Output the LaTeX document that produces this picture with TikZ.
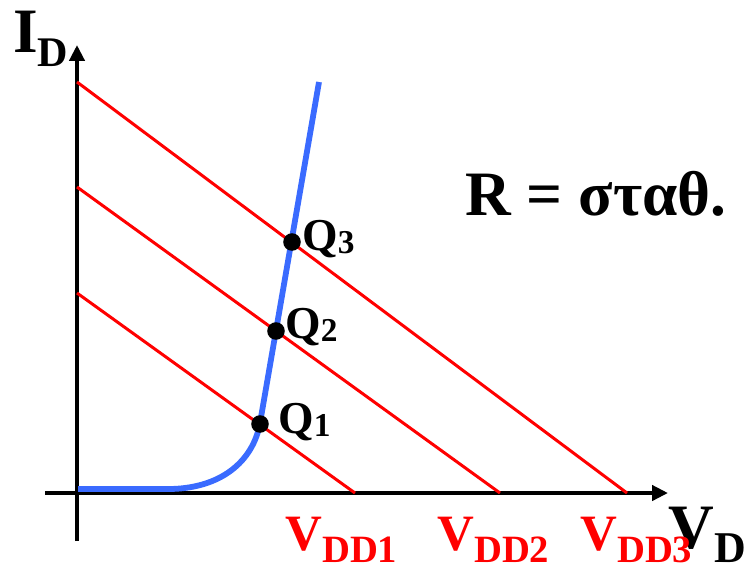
\documentclass[tikz,border=0pt]{standalone}
\usepackage{fontspec}
\setmainfont{Liberation Serif}
\usepackage{xcolor}
\usetikzlibrary{arrows.meta,positioning}
\definecolor{loadc}{HTML}{FF0000}
\definecolor{diodec}{HTML}{3A6BFF}
\newcommand{\bigsz}{\fontsize{36}{36}\selectfont}
\newcommand{\subtxt}[3]{\raisebox{-#1}{\fontsize{#2}{#2}\selectfont #3}}
\tikzset{
  ax/.style={-{Triangle[length=9pt,width=8.5pt]},line width=2.2pt,black},
  loadln/.style={loadc,line width=1.7pt},
  lbl/.style={anchor=base west,inner sep=0pt,font=\bfseries}
}
\begin{document}
\begin{tikzpicture}[x=0.02cm,y=-0.02cm]
\useasboundingbox (0,0) rectangle (746,569);
% axes
\coordinate (o) at (77,493);
\draw[ax] (45,493)--(668,493) coordinate (xend);
\draw[ax] (77,541)--(77,45) coordinate (yend);
\node[lbl] (ylab) at (13,52) {\bigsz I\subtxt{8.5pt}{24}{D}};
\node[lbl] (xlab) at (668,548) {\bigsz V\subtxt{8pt}{25}{D}};
% load lines
\foreach \ya/\xb/\xl/\n in {293/355/285/1,187/500/437/2,82/627/580/3}{
  \draw[loadln] (77,\ya) coordinate (l\n a)--(\xb,493) coordinate (l\n b);
  \node[lbl,loadc] (vdd\n) at (\xl,550) {\fontsize{29}{29}\selectfont V\subtxt{7pt}{22}{DD\n}};
}
% diode curve
\draw[diodec,line width=3.3pt] (78,489)--(168,489) .. controls (220,489) and (253,462) .. (260,423)--(319,82);
% operating points
\coordinate (q1) at (260,424);
\coordinate (q2) at (276,331);
\coordinate (q3) at (292,242);
\fill (q1) circle (5pt) (q2) circle (5pt) (q3) circle (5pt);
\node[lbl] (q1lab) at (278,433) {\fontsize{26}{26}\selectfont Q\subtxt{2pt}{19}{1}};
\node[lbl] (q2lab) at (285,338) {\fontsize{26}{26}\selectfont Q\subtxt{2pt}{19}{2}};
\node[lbl] (q3lab) at (302,250) {\fontsize{26}{26}\selectfont Q\subtxt{2pt}{19}{3}};
\node[lbl] (rlab) at (465,215) {\bigsz R = σταθ.};
\end{tikzpicture}
\end{document}
